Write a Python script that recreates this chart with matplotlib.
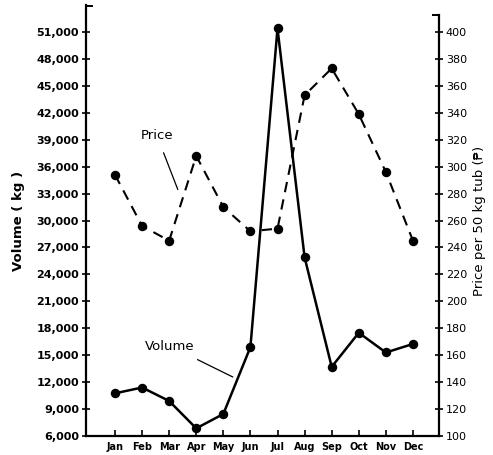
import numpy as np
import matplotlib
matplotlib.use('Agg')
import matplotlib.pyplot as plt
from matplotlib.ticker import FixedLocator

# Dados
meses = ['Jan', 'Feb', 'Mar', 'Apr', 'May', 'Jun', 'Jul', 'Aug', 'Sep', 'Oct', 'Nov', 'Dec']
volume = [10750, 11400, 9900, 6850, 8450, 15900, 51400, 25900, 13700, 17500, 15300, 16250]
preco = [294, 256, 245, 308, 270, 252, 254, 353, 373, 339, 296, 245]

vol_ticks = np.arange(6000, 51001, 3000)
preco_ticks = np.arange(100, 401, 20)

x = np.arange(len(meses))

fig = plt.figure(figsize=(4.93, 4.55), dpi=100)
ax = fig.add_axes([0.1744, 0.0418, 0.716, 0.947])
ax2 = ax.twinx()

# Volume (linha cheia)
ax.plot(x, volume, color='black', lw=1.8, marker='o', ms=5.8, zorder=3)

# Preço (linha tracejada)
ax2.plot(x, preco, color='black', lw=1.5, ls=(0, (5, 3.5)), marker='o', ms=5.8, zorder=3)

ax.set_xlim(-1.07, 11.96)
ax.set_ylim(6000, 54000)
ax2.set_ylim(100, 420)

ax.spines['top'].set_visible(False)
ax2.spines['top'].set_visible(False)
ax.spines['right'].set_visible(False)
ax2.spines['left'].set_visible(False)
ax2.spines['bottom'].set_visible(False)
for s in ['left', 'bottom']:
    ax.spines[s].set_linewidth(1.6)
ax2.spines['right'].set_linewidth(1.6)
ax2.spines['right'].set_bounds(100, 413)

ax.set_xticks(x)
ax.set_xticklabels(meses, fontsize=7, fontweight='bold')
ax.tick_params(axis='x', direction='in', length=4, width=1.2, pad=4)

ax.set_yticks(vol_ticks)
ax.set_yticklabels(['{:,}'.format(v) for v in vol_ticks], fontsize=8, fontweight='bold')
ax.tick_params(axis='y', direction='inout', length=6, width=1.2, pad=2)

ax2.set_yticks(preco_ticks)
ax2.set_yticklabels([str(p) for p in preco_ticks], fontsize=8)
ax2.tick_params(axis='y', direction='inout', length=6, width=1.2, pad=2)

# pequenas "tampas" no topo dos eixos
ax.yaxis.set_minor_locator(FixedLocator([53900]))
ax.tick_params(axis='y', which='minor', direction='in', length=5, width=1.4)
ax2.yaxis.set_minor_locator(FixedLocator([413]))
ax2.tick_params(axis='y', which='minor', direction='in', length=5, width=1.4)

ax.set_ylabel('Volume ( kg )', fontsize=9.5, fontweight='bold', labelpad=8)
ax2.set_ylabel('Price per 50 kg tub (₱)', fontsize=9.5, labelpad=4)

# Rótulos das séries
ax2.annotate('Price', xy=(2.32, 283), xytext=(1.55, 323), fontsize=9.5,
             ha='center', va='center',
             arrowprops=dict(arrowstyle='-', color='black', lw=0.9, shrinkA=6, shrinkB=0))
ax.annotate('Volume', xy=(4.35, 12570), xytext=(2.03, 16020), fontsize=9.5,
            ha='center', va='center',
            arrowprops=dict(arrowstyle='-', color='black', lw=0.9, shrinkA=7, shrinkB=0))

fig.savefig('out.png', dpi=100)
